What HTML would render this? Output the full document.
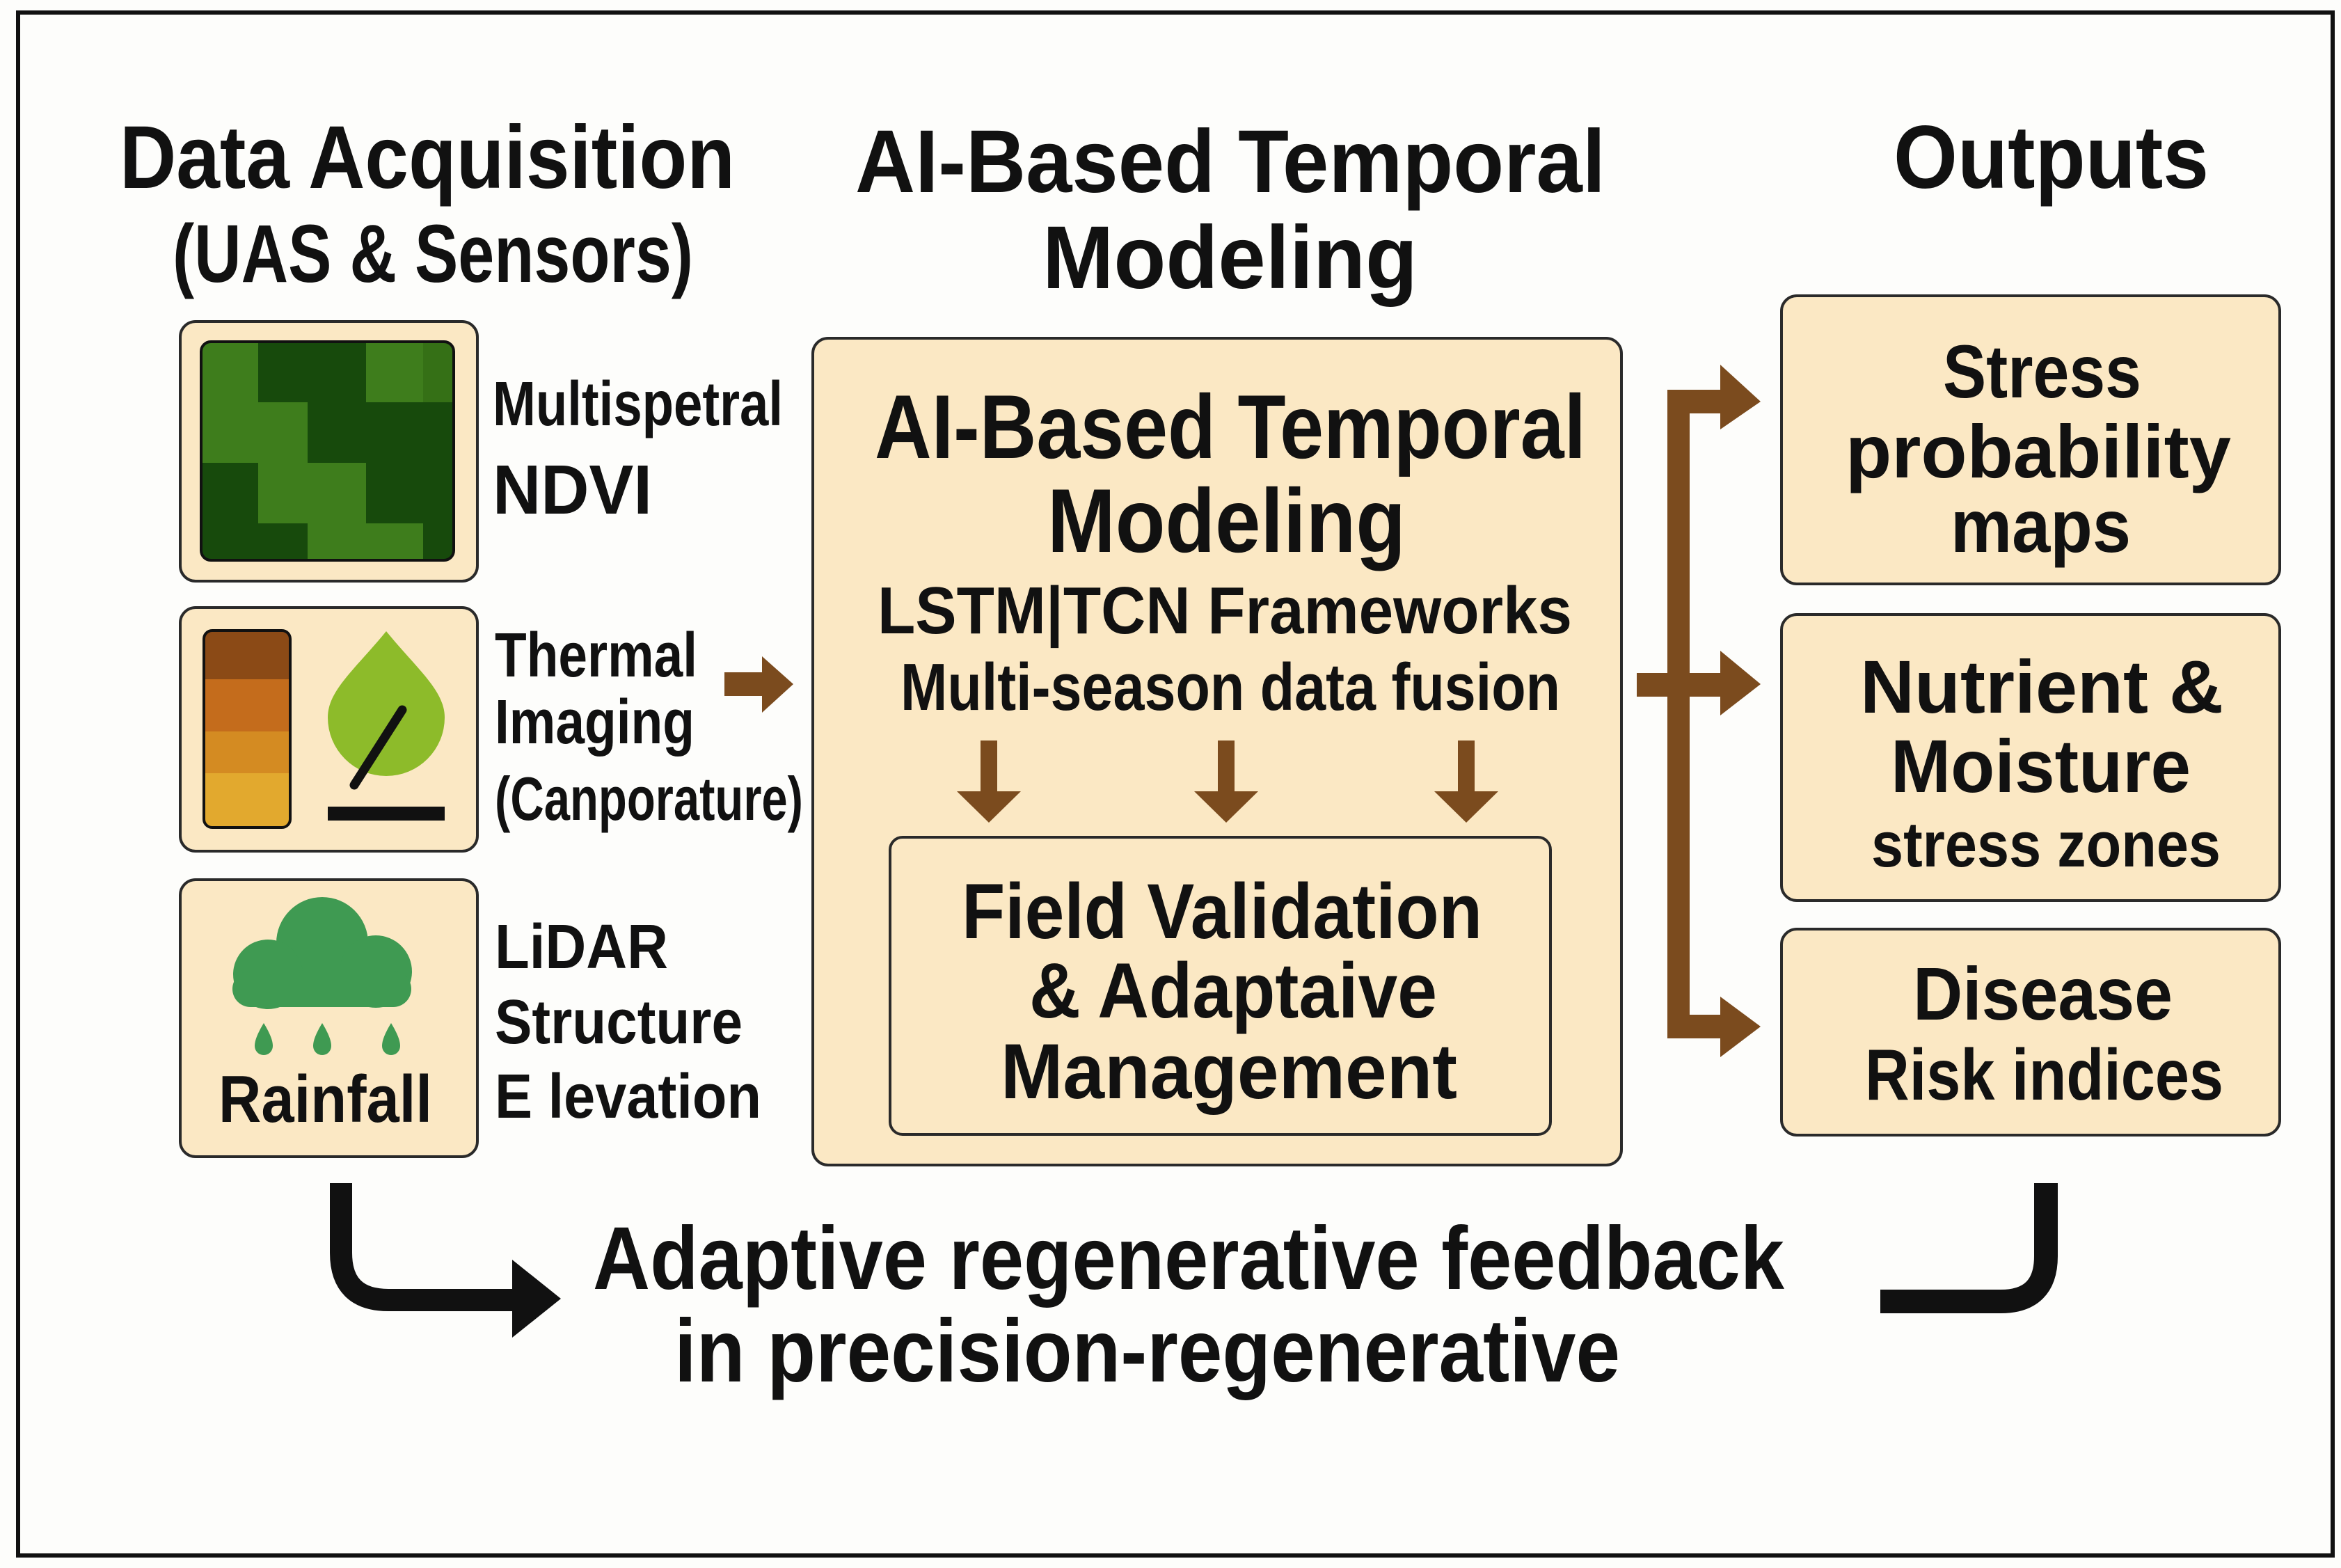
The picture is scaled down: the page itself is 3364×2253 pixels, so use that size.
<!DOCTYPE html>
<html><head><meta charset="utf-8">
<style>
html,body{margin:0;padding:0;background:#fdfdfb;}
svg{display:block;}
text{font-family:"Liberation Sans","DejaVu Sans",sans-serif;font-weight:bold;fill:#111;}
</style></head>
<body>
<svg width="3364" height="2253" viewBox="0 0 3364 2253" xmlns="http://www.w3.org/2000/svg">
<rect x="0" y="0" width="3364" height="2253" fill="#fdfdfb"/>
<rect x="26" y="18" width="3326" height="2217" fill="none" stroke="#111" stroke-width="6"/>

<!-- Headers -->
<text x="172" y="270" font-size="128" textLength="884" lengthAdjust="spacingAndGlyphs">Data Acquisition</text>
<text x="248" y="405" font-size="118" font-weight="normal" textLength="748" lengthAdjust="spacingAndGlyphs">(UAS &amp; Sensors)</text>
<text x="1229" y="276" font-size="128" textLength="1078" lengthAdjust="spacingAndGlyphs">AI-Based Temporal</text>
<text x="1498" y="414" font-size="128" textLength="539" lengthAdjust="spacingAndGlyphs">Modeling</text>
<text x="2721" y="270" font-size="128" textLength="453" lengthAdjust="spacingAndGlyphs">Outputs</text>

<!-- Left boxes -->
<g fill="#fbe8c4" stroke="#2a2a2a" stroke-width="4">
<rect x="259" y="462" width="427" height="373" rx="22"/>
<rect x="259" y="873" width="427" height="350" rx="22"/>
<rect x="259" y="1264" width="427" height="398" rx="22"/>
</g>

<!-- NDVI -->
<clipPath id="nd"><rect x="289" y="491" width="363" height="314" rx="14"/></clipPath>
<g clip-path="url(#nd)">
<rect x="289" y="491" width="363" height="314" fill="#174a0c"/>
<g fill="#3e7d1c">
<rect x="289" y="491" width="82" height="87"/>
<rect x="526" y="491" width="126" height="87"/>
<rect x="289" y="578" width="153" height="87"/>
<rect x="371" y="665" width="155" height="87"/>
<rect x="442" y="752" width="166" height="53"/>
</g>
<rect x="608" y="491" width="44" height="87" fill="#357016"/>
</g>
<rect x="289" y="491" width="363" height="314" rx="14" fill="none" stroke="#111" stroke-width="4"/>

<!-- Thermal bar -->
<clipPath id="th"><rect x="293" y="906" width="124" height="283" rx="12"/></clipPath>
<g clip-path="url(#th)">
<rect x="293" y="906" width="124" height="70" fill="#8b4a16"/>
<rect x="293" y="976" width="124" height="75" fill="#c46c1c"/>
<rect x="293" y="1051" width="124" height="60" fill="#d48b22"/>
<rect x="293" y="1111" width="124" height="78" fill="#e2a92e"/>
</g>
<rect x="293" y="906" width="124" height="283" rx="12" fill="none" stroke="#111" stroke-width="4"/>
<!-- Leaf -->
<path d="M555,907 C600,962 639,992 639,1031 A84,84 0 0 1 471,1031 C471,992 510,962 555,907Z" fill="#8dbb2a"/>
<line x1="578" y1="1020" x2="509" y2="1128" stroke="#111" stroke-width="13" stroke-linecap="round"/>
<rect x="471" y="1159" width="168" height="20" fill="#111"/>

<!-- Cloud -->
<g fill="#3f9a52">
<circle cx="463" cy="1355" r="66"/>
<circle cx="385" cy="1400" r="50"/>
<circle cx="540" cy="1396" r="52"/>
<rect x="334" y="1395" width="257" height="52" rx="26"/>
<path d="M379,1470 C388,1485 392,1495 392,1503 A13,13 0 0 1 366,1503 C366,1495 370,1485 379,1470Z"/>
<path d="M463,1470 C472,1485 476,1495 476,1503 A13,13 0 0 1 450,1503 C450,1495 454,1485 463,1470Z"/>
<path d="M562,1470 C571,1485 575,1495 575,1503 A13,13 0 0 1 549,1503 C549,1495 553,1485 562,1470Z"/>
</g>
<text x="314" y="1612" font-size="96" textLength="307" lengthAdjust="spacingAndGlyphs">Rainfall</text>

<!-- Left labels -->
<text x="708" y="611" font-size="90" textLength="417" lengthAdjust="spacingAndGlyphs">Multispetral</text>
<text x="708" y="738" font-size="100" font-weight="normal" textLength="229" lengthAdjust="spacingAndGlyphs">NDVI</text>
<text x="711" y="972" font-size="90" textLength="291" lengthAdjust="spacingAndGlyphs">Thermal</text>
<text x="711" y="1068" font-size="90" textLength="287" lengthAdjust="spacingAndGlyphs">Imaging</text>
<text x="711" y="1178" font-size="88" font-weight="normal" textLength="443" lengthAdjust="spacingAndGlyphs">(Canporature)</text>
<text x="711" y="1391" font-size="90" textLength="249" lengthAdjust="spacingAndGlyphs">LiDAR</text>
<text x="711" y="1499" font-size="90" textLength="356" lengthAdjust="spacingAndGlyphs">Structure</text>
<text x="711" y="1606" font-size="90" textLength="383" lengthAdjust="spacingAndGlyphs">E levation</text>

<!-- small arrow -->
<path d="M1041,966 L1095,966 L1095,943 L1140,983 L1095,1024 L1095,1000 L1041,1000Z" fill="#7b4b1e"/>

<!-- Center box -->
<rect x="1168" y="486" width="1162" height="1188" rx="22" fill="#fbe8c4" stroke="#2a2a2a" stroke-width="4"/>
<text x="1257" y="658" font-size="130" textLength="1022" lengthAdjust="spacingAndGlyphs">AI-Based Temporal</text>
<text x="1505" y="793" font-size="130" textLength="515" lengthAdjust="spacingAndGlyphs">Modeling</text>
<text x="1261" y="910" font-size="96" font-weight="normal" textLength="998" lengthAdjust="spacingAndGlyphs">LSTM|TCN Frameworks</text>
<text x="1294" y="1020" font-size="96" font-weight="normal" textLength="948" lengthAdjust="spacingAndGlyphs">Multi-season data fusion</text>
<g fill="#7b4b1e">
<path d="M1409,1064 L1433,1064 L1433,1137 L1467,1137 L1421,1182 L1375,1137 L1409,1137Z"/>
<path d="M1750,1064 L1774,1064 L1774,1137 L1808,1137 L1762,1182 L1716,1137 L1750,1137Z"/>
<path d="M2095,1064 L2119,1064 L2119,1137 L2153,1137 L2107,1182 L2061,1137 L2095,1137Z"/>
</g>
<rect x="1279" y="1203" width="949" height="427" rx="18" fill="#fbe8c4" stroke="#2a2a2a" stroke-width="4"/>
<text x="1382" y="1348" font-size="112" textLength="748" lengthAdjust="spacingAndGlyphs">Field Validation</text>
<text x="1479" y="1462" font-size="112" textLength="586" lengthAdjust="spacingAndGlyphs">&amp; Adaptaive</text>
<text x="1438" y="1578" font-size="112" textLength="656" lengthAdjust="spacingAndGlyphs">Management</text>

<!-- Brown bus -->
<g fill="#7b4b1e">
<rect x="2396" y="560" width="32" height="932"/>
<rect x="2396" y="560" width="80" height="34"/>
<path d="M2472,524 L2530,577 L2472,617Z"/>
<rect x="2352" y="967" width="124" height="34"/>
<path d="M2472,935 L2530,983 L2472,1028Z"/>
<rect x="2396" y="1458" width="80" height="34"/>
<path d="M2472,1432 L2530,1475 L2472,1519Z"/>
</g>

<!-- Right boxes -->
<g fill="#fbe8c4" stroke="#2a2a2a" stroke-width="4">
<rect x="2560" y="425" width="716" height="414" rx="22"/>
<rect x="2560" y="883" width="716" height="411" rx="22"/>
<rect x="2560" y="1335" width="716" height="296" rx="22"/>
</g>
<text x="2792" y="571" font-size="108" textLength="285" lengthAdjust="spacingAndGlyphs">Stress</text>
<text x="2652" y="686" font-size="108" textLength="554" lengthAdjust="spacingAndGlyphs">probability</text>
<text x="2803" y="793" font-size="108" textLength="259" lengthAdjust="spacingAndGlyphs">maps</text>
<text x="2673" y="1024" font-size="108" textLength="522" lengthAdjust="spacingAndGlyphs">Nutrient &amp;</text>
<text x="2717" y="1138" font-size="108" textLength="431" lengthAdjust="spacingAndGlyphs">Moisture</text>
<text x="2689" y="1245" font-size="92" font-weight="normal" textLength="502" lengthAdjust="spacingAndGlyphs">stress zones</text>
<text x="2749" y="1465" font-size="108" textLength="373" lengthAdjust="spacingAndGlyphs">Disease</text>
<text x="2680" y="1580" font-size="104" font-weight="normal" textLength="515" lengthAdjust="spacingAndGlyphs">Risk indices</text>

<!-- Bottom feedback arrows -->
<path d="M490,1700 L490,1800 Q490,1868 558,1868 L745,1868" fill="none" stroke="#111" stroke-width="32"/>
<path d="M736,1810 L806,1866 L736,1922Z" fill="#111"/>
<path d="M2940,1700 L2940,1805 Q2940,1870 2875,1870 L2702,1870" fill="none" stroke="#111" stroke-width="34"/>

<text x="852" y="1852" font-size="128" textLength="1712" lengthAdjust="spacingAndGlyphs">Adaptive regenerative feedback</text>
<text x="969" y="1985" font-size="128" textLength="1359" lengthAdjust="spacingAndGlyphs">in precision-regenerative</text>
</svg>
</body></html>
